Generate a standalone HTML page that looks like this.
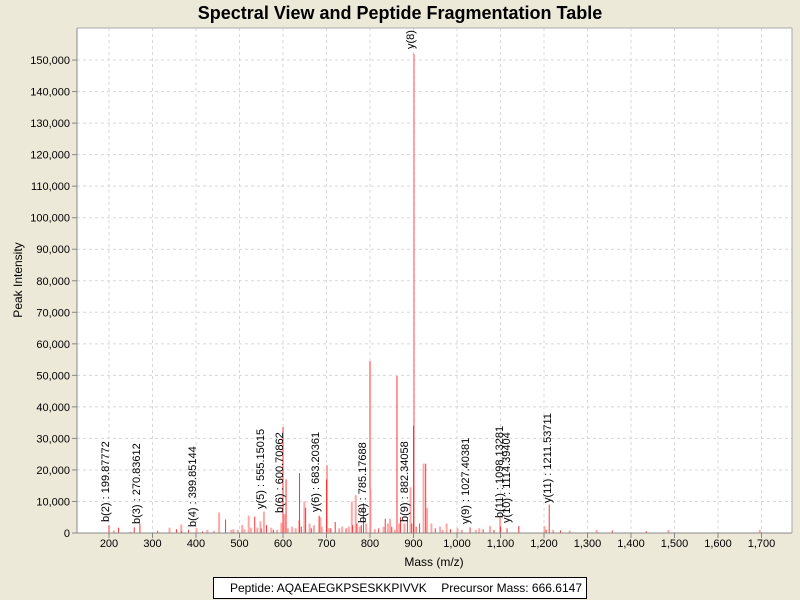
<!DOCTYPE html>
<html><head><meta charset="utf-8"><style>
html,body{margin:0;padding:0;background:#ECE9D8;}
svg{display:block;font-family:"Liberation Sans",Arial,sans-serif;}
</style></head><body>
<svg id="s" width="800" height="600" xmlns="http://www.w3.org/2000/svg">
<rect width="800" height="600" fill="#ECE9D8"/>
<text x="400" y="19" font-size="18" font-weight="bold" text-anchor="middle" fill="#000">Spectral View and Peptide Fragmentation Table</text>
<rect x="77" y="28" width="715" height="505" fill="#fff"/>
<g id="grid" stroke="#d8d8d8" stroke-dasharray="3,3" stroke-width="1"></g>
<defs><clipPath id="cp"><rect x="77" y="28" width="715" height="505"/></clipPath></defs>
<g id="bars" clip-path="url(#cp)"></g>
<g clip-path="url(#cp)" font-size="11" fill="#000">
<text transform="translate(109,522) rotate(-90)">b(2) : 199.87772</text>
<text transform="translate(140,524) rotate(-90)">b(3) : 270.83612</text>
<text transform="translate(196,527) rotate(-90)">b(4) : 399.85144</text>
<text transform="translate(264,509) rotate(-90)">y(5) : 555.15015</text>
<text transform="translate(283,513) rotate(-90)">b(6) : 600.70862</text>
<text transform="translate(319,512) rotate(-90)">y(6) : 683.20361</text>
<text transform="translate(366,523) rotate(-90)">b(8) : 785.17688</text>
<text transform="translate(408,522) rotate(-90)">b(9) : 882.34058</text>
<text transform="translate(469,524) rotate(-90)">y(9) : 1027.40381</text>
<text transform="translate(503,518) rotate(-90)">b(11) : 1098.13281</text>
<text transform="translate(510,523) rotate(-90)">y(10) : 1114.39404</text>
<text transform="translate(551,503) rotate(-90)">y(11) : 1211.53711</text>
<text transform="translate(414,49) rotate(-90)">y(8) : 900.42511</text>
</g>
<line x1="77" y1="28" x2="792" y2="28" stroke="#aaa"/>
<line x1="792" y1="28" x2="792" y2="533" stroke="#aaa"/>
<line x1="77" y1="28" x2="77" y2="533" stroke="#888"/>
<line x1="77" y1="533" x2="792" y2="533" stroke="#888"/>
<g id="ticks" stroke="#888"></g>
<g font-size="11" fill="#000" text-anchor="end">
<text x="70" y="537">0</text>
<text x="70" y="505.5">10,000</text>
<text x="70" y="474">20,000</text>
<text x="70" y="442.4">30,000</text>
<text x="70" y="410.9">40,000</text>
<text x="70" y="379.4">50,000</text>
<text x="70" y="347.8">60,000</text>
<text x="70" y="316.3">70,000</text>
<text x="70" y="284.8">80,000</text>
<text x="70" y="253.2">90,000</text>
<text x="70" y="221.7">100,000</text>
<text x="70" y="190.2">110,000</text>
<text x="70" y="158.6">120,000</text>
<text x="70" y="127.1">130,000</text>
<text x="70" y="95.6">140,000</text>
<text x="70" y="64.1">150,000</text>
</g>
<g font-size="11" fill="#000" text-anchor="middle">
<text x="109" y="547">200</text>
<text x="152.5" y="547">300</text>
<text x="196" y="547">400</text>
<text x="239.5" y="547">500</text>
<text x="283" y="547">600</text>
<text x="326.5" y="547">700</text>
<text x="370" y="547">800</text>
<text x="413.5" y="547">900</text>
<text x="457" y="547">1,000</text>
<text x="500.5" y="547">1,100</text>
<text x="544" y="547">1,200</text>
<text x="587.5" y="547">1,300</text>
<text x="631" y="547">1,400</text>
<text x="674.5" y="547">1,500</text>
<text x="718" y="547">1,600</text>
<text x="761.5" y="547">1,700</text>
</g>
<text x="434" y="566" font-size="12" text-anchor="middle">Mass (m/z)</text>
<text transform="translate(22,280) rotate(-90)" font-size="12" text-anchor="middle">Peak Intensity</text>
<rect x="213.5" y="577.5" width="373" height="21" fill="#fff" stroke="#000"/>
<text x="230" y="592" font-size="12">Peptide: AQAEAEGKPSESKKPIVVK</text>
<text x="582" y="592" font-size="12" text-anchor="end">Precursor Mass: 666.6147</text>
</svg>
<script>
(function(){
var NS="http://www.w3.org/2000/svg";
function X(m){return 109+(m-200)*0.435;}
function Y(v){return 533-v/10000*31.53;}
function ln(g,x1,y1,x2,y2,at){var e=document.createElementNS(NS,"line");e.setAttribute("x1",x1);e.setAttribute("y1",y1);e.setAttribute("x2",x2);e.setAttribute("y2",y2);if(at)for(var k in at)e.setAttribute(k,at[k]);g.appendChild(e);}
var g=document.getElementById("grid"),t=document.getElementById("ticks");
for(var v=10000;v<=150000;v+=10000){var y=Y(v);ln(g,77,y,792,y);}
for(var v=0;v<=150000;v+=10000){var y=Y(v);ln(t,72,y,77,y);}
for(var m=200;m<=1700;m+=100){var x=X(m);ln(g,x,28,x,533);ln(t,x,533,x,538);}
var P=[[200,2500,1],[210,800],[222,1700,1],[248,400],[258,1800,1],[271,3000,1],[312,700,1],[338,1700],[355,1200,1],[365,2700],[367,600,1],[383,1000,1],[400,1500],[415,500,1],[425,1000],[440,700],[452,6500],[468,4300,1],[480,1000],[485,1200],[495,1000],[505,2500],[510,1200],[520,5500],[525,1700],[535,5200,1],[540,1700],[547,3700],[550,1500,1],[555,6800],[562,2500,1],[572,1700],[578,1000,1],[585,1000],[595,3200],[600,33600,1],[602,6000],[607,17000,1],[610,1500],[620,2000],[628,1500],[636,4000],[638,19000,1],[642,2000,1],[648,10000],[652,8000,1],[660,3000],[665,1500,1],[670,2500],[683,5500,1],[685,5000],[688,2000],[700,21500],[700,17000,1],[705,1500],[710,1500,1],[720,3500,1],[728,1500],[735,2000],[745,1500,1],[750,2000],[757,10000],[760,2500,1],[766,12000],[770,3000,1],[775,2000],[780,2500,1],[785,9500,1],[790,3000],[800,54500,1],[800,14000],[810,1200],[820,1500,1],[830,2000],[835,4500,1],[840,3000],[845,4500],[850,2000,1],[856,1000],[862,49800,1],[866,3000],[870,5000,1],[878,3000],[886,4000,1],[892,14500],[896,3000,1],[900,152000],[900,34000,1],[906,2000,1],[914,3000,1],[922,22000],[928,22000,1],[930,8000],[940,3000],[950,1500,1],[960,2000],[966,1000],[975,3000],[985,1200,1],[1000,1500],[1010,1000],[1030,1800,1],[1042,1000],[1050,1500],[1060,1200,1],[1075,2200],[1085,1000,1],[1098,5000],[1100,2000,1],[1115,1500,1],[1142,2200,1],[1200,2200],[1205,1000,1],[1212,9000,1],[1220,1000],[1238,800,1],[1258,800],[1320,1000],[1357,800,1],[1435,600,1],[1485,1000],[1695,1000]];
var b=document.getElementById("bars");
P.forEach(function(p){var x=X(p[0]);if(p[2])ln(b,x,533,x,Y(p[1]),{stroke:"#ff3333","stroke-width":"1"});else ln(b,x+0.5,533,x+0.5,Y(p[1]),{stroke:"#ff8888","stroke-width":"2","stroke-opacity":"0.75"});});
})();
</script>
</body></html>
